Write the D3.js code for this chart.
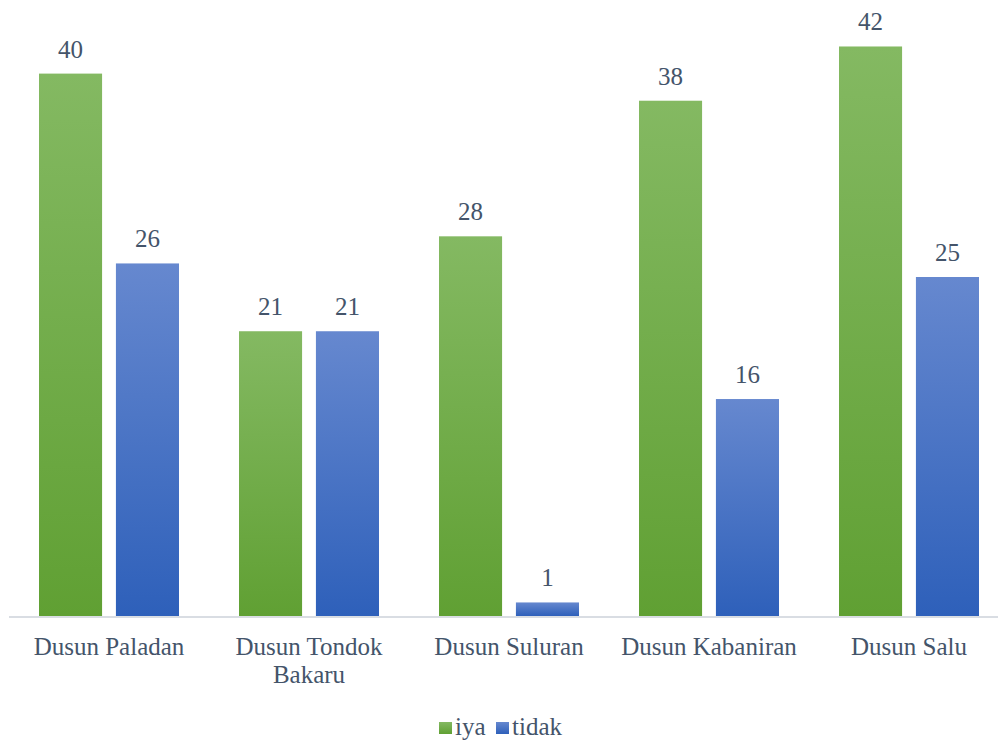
<!DOCTYPE html>
<html>
<head>
<meta charset="utf-8">
<script src="https://cdn.jsdelivr.net/npm/d3@7"></script>
<style>
  body { margin: 0; background: #fff; }
  text { font-family: "Liberation Serif", "DejaVu Serif", serif; fill: #44546a; }
</style>
</head>
<body>
<div id="chart"></div>
<script>
// data
var categories = ["Dusun Paladan", "Dusun Tondok Bakaru", "Dusun Suluran", "Dusun Kabaniran", "Dusun Salu"];
var seriesNames = ["iya", "tidak"];
var iyaValues = [40, 21, 28, 38, 42];
var tidakValues = [26, 21, 1, 16, 25];

var width = 998, height = 740;
var margin = { top: 20, right: -11, bottom: 124, left: 9 };

var svg = d3.select("#chart").append("svg")
    .attr("width", width)
    .attr("height", height);

// gradients
var defs = svg.append("defs");
var grads = [
    { id: "g-iya", top: "#84b962", bottom: "#60a033" },
    { id: "g-tidak", top: "#6688cf", bottom: "#2e60ba" }
];
grads.forEach(function(g) {
    var lg = defs.append("linearGradient")
        .attr("id", g.id)
        .attr("x1", 0).attr("y1", 0).attr("x2", 0).attr("y2", 1);
    lg.append("stop").attr("offset", "0%").attr("stop-color", g.top);
    lg.append("stop").attr("offset", "100%").attr("stop-color", g.bottom);
});

var plotW = width - margin.left - margin.right,
    plotH = height - margin.top - margin.bottom;

var x0 = d3.scaleBand()
    .domain(categories)
    .range([0, plotW])
    .paddingInner(0)
    .paddingOuter(0);

var x1 = d3.scaleBand()
    .domain(seriesNames)
    .range([30, x0.bandwidth() - 30])
    .paddingInner(0.18);

var y = d3.scaleLinear()
    .domain([0, 44])
    .range([plotH, plotH - 44 * 13.56]);

var g = svg.append("g")
    .attr("transform", "translate(" + margin.left + "," + margin.top + ")");

var rows = categories.map(function(c, i) {
    return { cat: c, values: [
        { key: "iya", value: iyaValues[i] },
        { key: "tidak", value: tidakValues[i] }
    ] };
});

// axis line
g.append("line")
    .attr("x1", 0).attr("x2", width - margin.left)
    .attr("y1", y(0) + 1).attr("y2", y(0) + 1)
    .attr("stroke", "#d9dde3")
    .attr("stroke-width", 2);

var groups = g.selectAll(".grp")
    .data(rows)
    .enter().append("g")
    .attr("class", "grp")
    .attr("transform", d => "translate(" + x0(d.cat) + ",0)");

groups.selectAll("rect")
    .data(d => d.values)
    .enter().append("rect")
    .attr("x", d => x1(d.key))
    .attr("y", d => y(d.value))
    .attr("width", x1.bandwidth())
    .attr("height", d => y(0) - y(d.value))
    .attr("fill", d => "url(#g-" + d.key + ")");

groups.selectAll(".val")
    .data(d => d.values)
    .enter().append("text")
    .attr("class", "val")
    .attr("x", d => x1(d.key) + x1.bandwidth() / 2)
    .attr("y", d => y(d.value) - 16)
    .attr("text-anchor", "middle")
    .style("font-size", "25px")
    .text(d => d.value);

// category labels
var labelLines = {
    "Dusun Tondok Bakaru": ["Dusun Tondok", "Bakaru"]
};
groups.each(function(d) {
    var lines = labelLines[d.cat] || [d.cat];
    var t = d3.select(this).append("text")
        .attr("text-anchor", "middle")
        .attr("x", x0.bandwidth() / 2)
        .attr("y", y(0) + 39)
        .style("font-size", "25px");
    lines.forEach(function(l, i) {
        t.append("tspan")
            .attr("x", x0.bandwidth() / 2)
            .attr("dy", i === 0 ? 0 : 28)
            .text(l);
    });
});

// legend
var legendItems = [
    { key: "iya", x: 439 },
    { key: "tidak", x: 496 }
];
var legend = svg.append("g");
legend.selectAll("rect")
    .data(legendItems)
    .enter().append("rect")
    .attr("x", d => d.x)
    .attr("y", 722)
    .attr("width", 13)
    .attr("height", 12)
    .attr("fill", d => "url(#g-" + d.key + ")");
legend.selectAll("text")
    .data(legendItems)
    .enter().append("text")
    .attr("x", d => d.x + 16)
    .attr("y", 735)
    .style("font-size", "25px")
    .text(d => d.key);
</script>
</body>
</html>
